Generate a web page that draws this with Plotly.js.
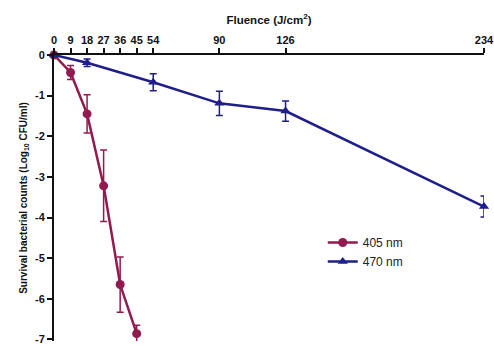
<!DOCTYPE html>
<html><head><meta charset="utf-8">
<script src="https://cdn.plot.ly/plotly-3.0.1.min.js"></script>
<style>html,body{margin:0;padding:0;background:#fff}#c{width:494px;height:346px}</style>
</head><body><div id="c"></div>
<script>
const fluence405 = [0, 9, 18, 27, 36, 45];
const log405 = [0, -0.43, -1.45, -3.22, -5.65, -6.86];
const err405 = [0, 0.17, 0.47, 0.88, 0.68, 0.21];
const fluence470 = [0, 18, 54, 90, 126, 234];
const log470 = [0, -0.19, -0.67, -1.19, -1.38, -3.73];
const err470 = [0, 0.09, 0.21, 0.3, 0.25, 0.26];
const xTicks = [0, 9, 18, 27, 36, 45, 54, 90, 126, 234];
const yTicks = [0, -1, -2, -3, -4, -5, -6, -7];

const red = '#921A4F', blue = '#1E1E8C';
const tickFont = {family: 'Liberation Sans, Arial, sans-serif', size: 11, color: '#111', weight: 'bold'};

const traces = [
  {x: fluence405, y: log405, name: '405 nm', type: 'scatter', mode: 'lines+markers',
   line: {color: red, width: 2.5}, marker: {symbol: 'circle', size: 9, color: red},
   error_y: {type: 'data', array: err405, color: red, thickness: 1.5, width: 3.5}, cliponaxis: false},
  {x: fluence470, y: log470, name: '470 nm', type: 'scatter', mode: 'lines+markers',
   line: {color: blue, width: 2.5}, marker: {symbol: 'triangle-up', size: 9, color: blue},
   error_y: {type: 'data', array: err470, color: blue, thickness: 1.5, width: 3.5}, cliponaxis: false}
];

const layout = {
  width: 494, height: 346,
  margin: {l: 54, r: 10, t: 55, b: 5},
  paper_bgcolor: '#fff', plot_bgcolor: '#fff',
  showlegend: true,
  legend: {x: 0.625, y: 0.395, xanchor: 'left', yanchor: 'top', bgcolor: 'rgba(0,0,0,0)',
    font: {family: 'Liberation Sans, Arial, sans-serif', size: 12, color: '#222'}, itemwidth: 30, tracegroupgap: 6},
  xaxis: {side: 'top', range: [0, 234], tickvals: xTicks, ticktext: xTicks.map(String),
    showgrid: false, zeroline: false, showline: true, linecolor: '#111', linewidth: 2,
    ticks: 'outside', ticklen: 5, tickwidth: 2, tickcolor: '#111', tickfont: tickFont,
    ticklabeloverflow: 'allow',
    title: {text: 'Fluence (J/cm<sup>2</sup>)', font: {family: 'Liberation Sans, Arial, sans-serif', size: 11.5, color: '#111', weight: 'bold'}, standoff: 7},
    automargin: false},
  yaxis: {range: [-7.04, 0], tickvals: yTicks, ticktext: yTicks.map(String),
    showgrid: false, zeroline: false, showline: true, linecolor: '#111', linewidth: 2,
    ticks: 'outside', ticklen: 5, tickwidth: 2, tickcolor: '#111', tickfont: tickFont,
    ticklabeloverflow: 'allow',
    title: {text: 'Survival bacterial counts (Log<sub>10</sub> CFU/ml)', font: {family: 'Liberation Sans, Arial, sans-serif', size: 10, color: '#111', weight: 'bold'}, standoff: 6},
    automargin: false}
};
Plotly.newPlot('c', traces, layout, {displayModeBar: false, staticPlot: true});
</script></body></html>
